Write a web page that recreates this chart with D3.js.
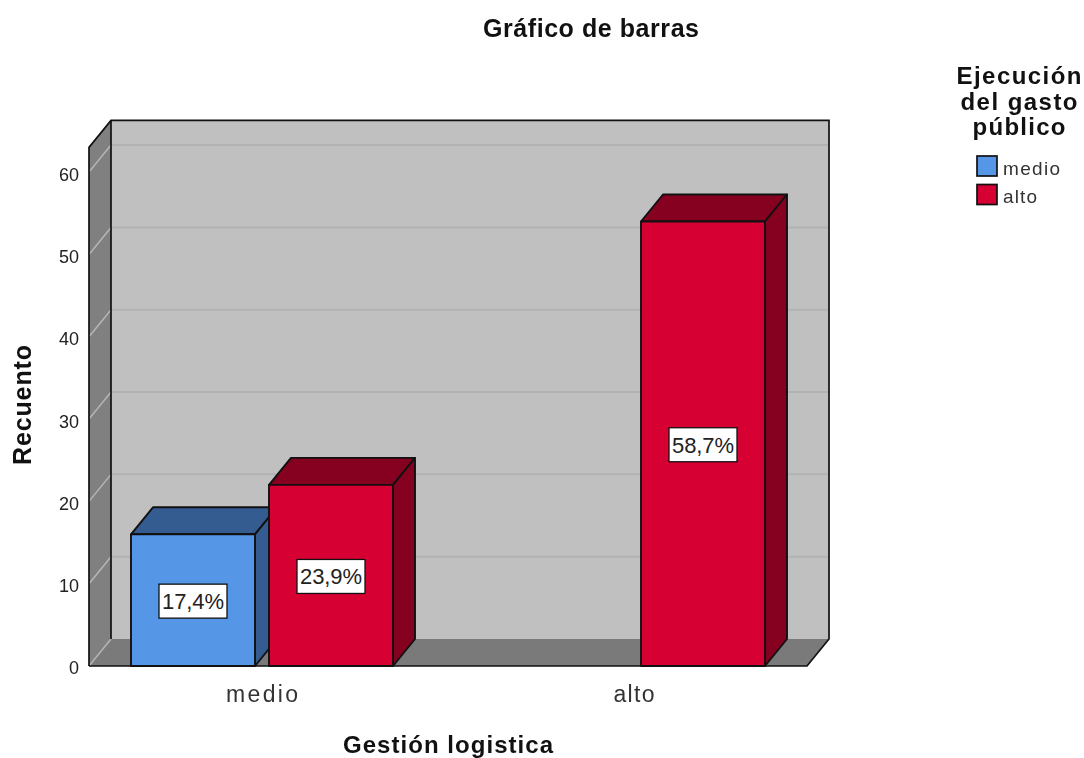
<!DOCTYPE html>
<html>
<head>
<meta charset="utf-8">
<script src="https://cdn.jsdelivr.net/npm/d3@7"></script>
<style>
body { margin: 0; background: #fff; }
svg { display: block; filter: blur(0.4px); }
text { font-family: "Liberation Sans", Arial, sans-serif; fill: #111; }
</style>
</head>
<body>
<svg id="chart" width="1084" height="758"></svg>
<script>
var categories = ["medio", "alto"];
var series = ["medio", "alto"];
// one entry per category, null where the bar is absent
var counts = { medio: [16, null], alto: [22, 54] };
var percents = { medio: ["17,4%", null], alto: ["23,9%", "58,7%"] };
var yTicks = [0, 10, 20, 30, 40, 50, 60];
var yMax = 63;

var colors = { medio: ["#5596e6", "#345c90"], alto: ["#d60032", "#860020"] };

var svg = d3.select("#chart"),
    dx = 22, dy = -27,          // depth of the 3d box
    left = 89, right = 807,
    x0 = d3.scaleBand().domain(categories).range([76, 820]),
    x1 = d3.scaleBand().domain(series).range([55, 317]).paddingInner(0.1014),
    y = d3.scaleLinear().domain([0, yMax]).range([666, 147.4]);

function pts(a) { return a.map(function (p) { return p.join(","); }).join(" "); }

function label(sel, str, x, y, size, w, weight) {
    return sel.append("text").attr("x", x).attr("y", y).attr("text-anchor", "middle")
        .attr("font-size", size).attr("font-weight", weight || "normal")
        .attr("textLength", w).attr("lengthAdjust", "spacing").text(str);
}

// back wall, side wall, floor
var top0 = y(yMax), bot = y(0);
svg.append("rect").attr("x", left + dx).attr("y", top0 + dy)
    .attr("width", right - left).attr("height", bot - top0)
    .attr("fill", "#c0c0c0");
svg.append("polygon")
    .attr("points", pts([[left, top0], [left + dx, top0 + dy], [left + dx, bot + dy], [left, bot]]))
    .attr("fill", "#808080");
svg.append("polygon")
    .attr("points", pts([[left, bot], [left + dx, bot + dy], [right + dx, bot + dy], [right, bot]]))
    .attr("fill", "#7a7a7a");

// gridlines
yTicks.forEach(function (d) {
    svg.append("line").attr("x1", left).attr("x2", left + dx)
        .attr("y1", y(d)).attr("y2", y(d) + dy)
        .attr("stroke", "#b5b5b5").attr("stroke-width", 1.5);
    if (d == 0) return;
    svg.append("line").attr("x1", left + dx).attr("x2", right + dx)
        .attr("y1", y(d) + dy).attr("y2", y(d) + dy)
        .attr("stroke", "#b2b2b2").attr("stroke-width", 2);
});

// box outline
svg.append("path")
    .attr("d", "M" + left + "," + bot + "V" + top0 + "L" + (left + dx) + "," + (top0 + dy) +
        "H" + (right + dx) + "V" + (bot + dy) + "L" + right + "," + bot + "H" + left)
    .attr("fill", "none").attr("stroke", "#111").attr("stroke-width", 1.7);
svg.append("line").attr("x1", left + dx).attr("x2", left + dx)
    .attr("y1", top0 + dy).attr("y2", bot + dy)
    .attr("stroke", "#111").attr("stroke-width", 1.7);

// bars
series.forEach(function (s) {
    categories.forEach(function (c, i) {
        var v = counts[s][i];
        if (v == null) return;
        var a = x0(c) + x1(s), b = a + x1.bandwidth(), t = y(v);
        var g = svg.append("g").attr("stroke", "#111").attr("stroke-width", 1.9).attr("stroke-linejoin", "round");
        g.append("polygon").attr("fill", colors[s][1])
            .attr("points", pts([[a, t], [a + dx, t + dy], [b + dx, t + dy], [b, t]]));
        g.append("polygon").attr("fill", colors[s][1])
            .attr("points", pts([[b, t], [b + dx, t + dy], [b + dx, bot + dy], [b, bot]]));
        g.append("rect").attr("fill", colors[s][0])
            .attr("x", a).attr("y", t).attr("width", b - a).attr("height", bot - t);
    });
});

// percent labels
series.forEach(function (s) {
    categories.forEach(function (c, i) {
        var v = counts[s][i];
        if (v == null) return;
        var cx = x0(c) + x1(s) + x1.bandwidth() / 2, cy = (y(v) + bot) / 2 + 1;
        svg.append("rect").attr("x", cx - 34).attr("y", cy - 17).attr("width", 68).attr("height", 34)
            .attr("fill", "#fff").attr("stroke", "#111").attr("stroke-width", 1.3);
        label(svg, percents[s][i], cx, cy + 8, 22, 62).style("fill", "#222");
    });
});

// axes
var yAxis = d3.axisLeft(y).tickValues(yTicks).tickSize(0).tickPadding(0);
var gy = svg.append("g").attr("transform", "translate(79,2.2)").call(yAxis);
gy.select(".domain").remove();
gy.selectAll("text").attr("font-size", 18).style("fill", "#222")
    .style("font-family", '"Liberation Sans",Arial,sans-serif');

var xAxis = d3.axisBottom(x0).tickSize(0).tickPadding(0);
var gx = svg.append("g").attr("transform", "translate(0,702)").call(xAxis);
gx.select(".domain").remove();
gx.selectAll("text").attr("font-size", 23).style("fill", "#333").attr("dy", 0).attr("y", 0)
    .attr("textLength", function (d) { return d == "medio" ? 72 : 41; })
    .attr("lengthAdjust", "spacing")
    .style("font-family", '"Liberation Sans",Arial,sans-serif');

// titles
label(svg, "Gráfico de barras", 591, 37, 25, 216, "bold");
label(svg, "Gestión logistica", 448, 753, 24, 210, "bold");
svg.append("g").attr("transform", "translate(31,405) rotate(-90)")
    .call(function (g) { label(g, "Recuento", 0, 0, 25, 120, "bold"); });

// legend
var legendTitle = ["Ejecución", "del gasto", "público"], legendW = [125, 117, 93];
legendTitle.forEach(function (t, i) {
    label(svg, t, 1019, 84 + i * 25.5, 24, legendW[i], "bold");
});
series.forEach(function (s, i) {
    var ly = 156 + i * 28.5;
    svg.append("rect").attr("x", 977).attr("y", ly).attr("width", 20).attr("height", 20)
        .attr("fill", colors[s][0]).attr("stroke", "#111").attr("stroke-width", 1.7);
    svg.append("text").attr("x", 1003).attr("y", ly + 18.5).attr("font-size", 19).style("fill", "#333")
        .attr("textLength", s == "medio" ? 57 : 34).attr("lengthAdjust", "spacing").text(s);
});
</script>
</body>
</html>
